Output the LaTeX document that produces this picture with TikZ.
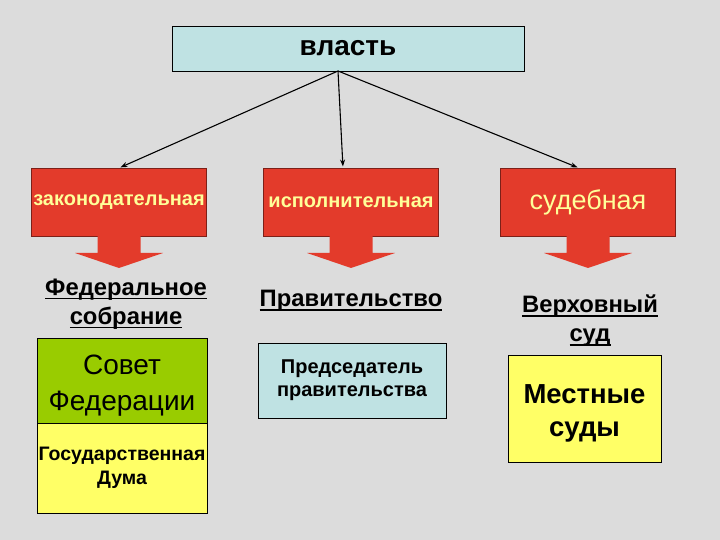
\documentclass[tikz,border=0pt]{standalone}
\usepackage{fontspec}
\setmainfont{Liberation Sans}
\usetikzlibrary{positioning, arrows.meta}
\definecolor{bggray}{HTML}{DCDCDC}
\definecolor{branchred}{HTML}{E33B2B}
\definecolor{textyellow}{HTML}{FFFF99}
\definecolor{paleblue}{HTML}{BFE2E3}
\definecolor{leafgreen}{HTML}{99CC00}
\definecolor{paleyellow}{HTML}{FFFF66}
\newcommand{\ulined}[1]{\leavevmode\setbox0=\hbox{#1}\rlap{\rule[-4pt]{\wd0}{1.6pt}}\box0}

\begin{document}
\begin{tikzpicture}[x=1pt, y=1pt]
    \tikzstyle{box} = [rectangle, draw=black, line width=0.8pt, outer sep=0pt, inner sep=0pt, align=center, text=black]
    \tikzstyle{branch} = [rectangle, draw=branchred!55!black, line width=0.6pt, fill=branchred, minimum width=175pt, minimum height=68pt, inner sep=0pt, outer sep=0pt, text=textyellow, font=\bfseries\fontsize{20}{24}\selectfont]
    \tikzstyle{title} = [align=center, font=\bfseries\fontsize{23.8}{29}\selectfont]
    \tikzstyle{link} = [line width=1.1pt, -{Stealth[length=7pt, width=5pt]}, shorten >=1.5pt]

    \useasboundingbox [fill=bggray] (0,0) rectangle (720,540);

    \node [box, fill=paleblue, minimum width=352pt, minimum height=45pt, font=\bfseries\fontsize{28}{32}\selectfont] (power) at (348,491.5) {власть};

    \node [branch] (law) at (119,338) {законодательная};
    \node [branch, right=57pt of law] (exec) {исполнительная};
    \node [branch, right=62pt of exec, font=\fontsize{27}{32}\selectfont] (court) {судебная};

    % down arrows under the branches
    \foreach \b in {law, exec, court} {
        \fill [branchred] ([xshift=-21.5pt, yshift=0.4pt]\b.south) -- ++(0,-17.4) -- ++(-22.5,0)
            -- ([yshift=-32pt]\b.south) -- ([xshift=44pt, yshift=-17pt]\b.south) -- ++(-22.5,0)
            -- ([xshift=21.5pt, yshift=0.4pt]\b.south) -- cycle;
    }

    \node [title] (assembly) at (126,236) {\ulined{Федеральное}\\\ulined{собрание}};
    \node [title] (gov) at (351,239) {\ulined{Правительство}};
    \node [title] (supreme) at (590,219) {\ulined{Верховный}\\\ulined{суд}};

    \node [box, fill=leafgreen, minimum width=170pt, minimum height=85pt, font=\fontsize{28}{36}\selectfont] (council) at (122,159.5) {\rule{0pt}{30pt}Совет\\Федерации};
    \node [box, fill=paleyellow, minimum width=170pt, minimum height=90pt, below=0pt of council, font=\bfseries\fontsize{19.5}{24}\selectfont] (duma) {Государственная\\Дума};
    \node [box, fill=paleblue, minimum width=188pt, minimum height=75pt, font=\bfseries\fontsize{20}{23}\selectfont] (chair) at (352,159.5) {Председатель\\правительства};
    \node [box, fill=paleyellow, minimum width=153pt, minimum height=107pt, font=\bfseries\fontsize{27.5}{33}\selectfont] (local) at (584.5,131.5) {\rule{0pt}{28pt}Местные\\суды};

    \draw [link] ([xshift=-10pt]power.south) -- (law.north);
    \draw [link] ([xshift=-10pt]power.south) -- ([xshift=-8pt]exec.north);
    \draw [link] ([xshift=-10pt]power.south) -- ([xshift=-9pt]court.north);
\end{tikzpicture}
\end{document}
